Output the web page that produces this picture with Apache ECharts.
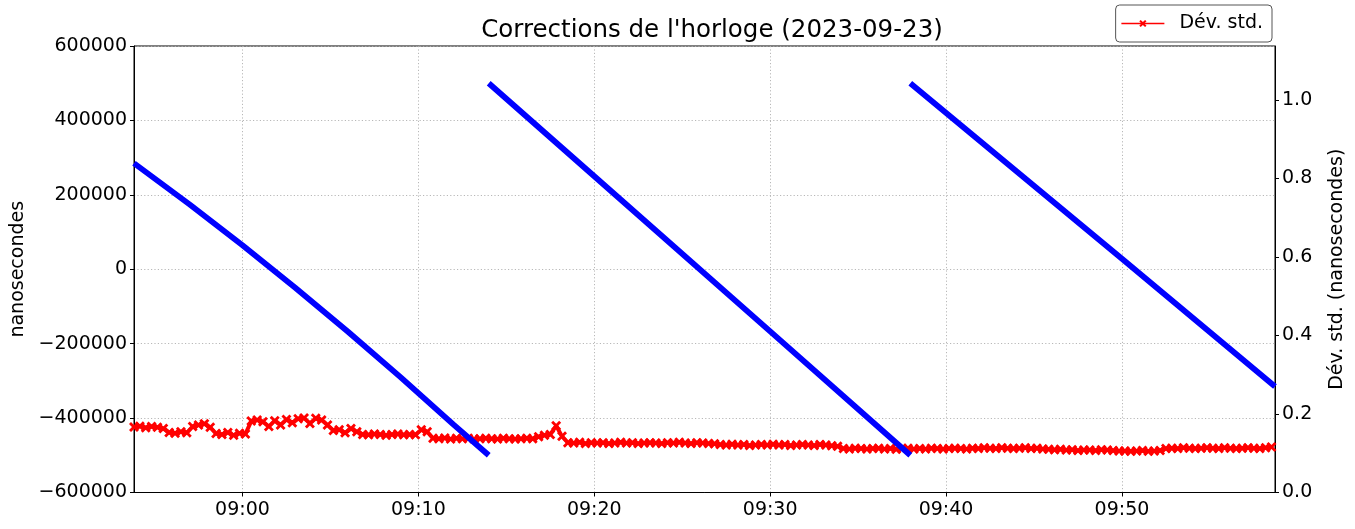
<!DOCTYPE html>
<html>
<head>
<meta charset="utf-8">
<script src="https://cdn.jsdelivr.net/npm/echarts@6/dist/echarts.min.js"></script>
<style>
  html, body { margin: 0; padding: 0; background: #fff; }
  #chart { width: 1355px; height: 529px; }
</style>
</head>
<body>
<div id="chart"></div>
<script>
// ---- Data ----
const chartTitle = "Corrections de l'horloge (2023-09-23)";
const axisStart = '08:53:50';
const axisEnd = '09:58:42';
const referenceTime = '09:00:00';   // x values are minutes relative to this
const xTickMinutes = 10;

// Blue: clock corrections (ns), three sawtooth segments
const seg1Times = ['08:53:50', '08:57:00', '09:00:00', '09:03:00', '09:06:00', '09:09:00', '09:12:00', '09:14:00'];
const seg1Values = [285000, 174000, 64400, -49500, -167800, -290500, -417600, -500000];
const seg2Times = ['09:14:00', '09:20:00', '09:30:00', '09:37:58'];
const seg2Values = [500000, 250000, -167000, -500000];
const seg3Times = ['09:37:58', '09:50:00', '09:58:42'];
const seg3Values = [500000, 28000, -315000];

// Red: std. deviation (ns), one value every 20 s from redStart
const redStart = '08:53:50';
const redStepSeconds = 20;
const redValues = [
  0.167,0.169,0.165,0.168,0.166,0.163,
  0.153,0.151,0.155,0.152,
  0.168,0.172,0.175,0.166,
  0.150,0.148,0.153,0.146,0.151,0.149,
  0.182,0.185,0.180,0.168,0.183,0.172,0.186,
  0.178,
  0.188,0.190,0.176,0.189,0.185,0.172,
  0.158,0.160,0.152,0.163,0.155,
  0.148,0.147,0.149,0.148,0.146,0.148,0.149,0.147,0.148,0.147,
  0.160,0.155,
  0.138,0.137,0.139,0.136,0.138,0.137,0.138,0.136,0.137,0.138,0.137,0.136,0.138,0.137,0.136,0.137,0.138,0.137,
  0.142,0.146,0.148,0.170,0.143,
  0.127,0.126,0.128,0.125,0.127,0.126,0.127,0.125,0.126,0.128,0.126,0.127,0.125,0.126,0.127,0.126,0.125,0.127,0.126,0.128,0.126,0.125,0.127,0.126,0.125,0.124,
  0.122,0.121,0.123,0.121,0.122,0.120,0.121,0.122,0.121,0.123,0.121,0.122,0.120,0.121,0.122,0.121,0.120,0.122,0.121,0.119,0.118,
  0.112,0.111,0.113,0.112,0.111,0.112,0.113,0.111,0.112,0.110,0.112,0.113,0.111,0.112,0.111,0.113,0.112,0.111,0.112,0.113,0.112,0.111,0.113,0.112,0.114,0.113,0.112,0.114,0.113,0.112,0.113,0.114,0.112,0.113,0.111,0.110,0.109,0.110,
  0.108,0.109,0.107,0.108,0.108,0.107,0.109,0.108,0.107,0.106,
  0.106,0.105,0.106,0.107,0.105,0.106,0.107,
  0.112,0.113,0.112,0.114,0.113,0.112,0.113,0.114,0.113,0.112,0.114,0.113,0.112,0.113,0.114,0.113,0.112,0.114,0.116
];

const leftTicks = { min: -600000, max: 600000, interval: 200000 };
const rightTicks = { min: 0, max: 1.1375, interval: 0.2 };
const leftName = 'nanosecondes';
const rightName = 'Dév. std. (nanosecondes)';
const redName = 'Dév. std.';

// ---- Helpers ----
function secOfDay(hms) {
  const p = hms.split(':').map(Number);
  return p[0] * 3600 + p[1] * 60 + (p[2] || 0);
}
const refSec = secOfDay(referenceTime);
const toMin = hms => (secOfDay(hms) - refSec) / 60;
function pairs(times, values) { return times.map((t, i) => [toMin(t), values[i]]); }
const redStartMin = toMin(redStart);
const redData = redValues.map((v, i) => [redStartMin + i * redStepSeconds / 60, v]);
const pad = n => String(n).padStart(2, '0');
const minus = s => String(s).replace('-', '\u2212');
function fmtClock(v) {
  const total = Math.round(refSec / 60 + v);
  return pad(Math.floor(total / 60)) + ':' + pad(total % 60);
}

const FONT = 'DejaVu Sans';
const xPath = 'path://M0,2L2,0L5,3L8,0L10,2L7,5L10,8L8,10L5,7L2,10L0,8L3,5Z';

const gridLine = { show: true, lineStyle: { color: '#b0b0b0', width: 0.9, type: [1.2, 2.2] } };
const blueStyle = { color: '#0000ff', width: 5.8, cap: 'butt' };

const chart = echarts.init(document.getElementById('chart'), null, { renderer: 'canvas' });
chart.setOption({
  animation: false,
  backgroundColor: '#fff',
  textStyle: { fontFamily: FONT },
  title: {
    text: chartTitle, left: 707, top: 13, textAlign: 'center',
    textStyle: { fontFamily: FONT, fontSize: 24.5, fontWeight: 'normal', color: '#000' }
  },
  legend: {
    data: [redName], right: 83, top: 5,
    orient: 'horizontal',
    padding: [9, 9, 9, 5],
    itemWidth: 43, itemHeight: 9,
    lineStyle: { width: 1.5 },
    borderColor: '#555', borderWidth: 1, borderRadius: 4,
    backgroundColor: '#fff',
    textStyle: { fontFamily: FONT, fontSize: 19, color: '#000', padding: [0, 0, 0, 10] }
  },
  grid: {
    left: 134, right: 73.5, top: 46, bottom: 36.5,
    show: true, borderColor: '#000', borderWidth: 1, backgroundColor: 'transparent'
  },
  xAxis: {
    type: 'value', min: toMin(axisStart), max: toMin(axisEnd),
    minInterval: xTickMinutes, maxInterval: xTickMinutes, splitNumber: 6,
    axisLine: { show: true, onZero: false, lineStyle: { color: '#000', width: 1 } },
    axisTick: { show: true, inside: false, length: 4, lineStyle: { color: '#000' } },
    axisLabel: {
      fontFamily: FONT, fontSize: 19, color: '#000', margin: 8,
      showMinLabel: false, showMaxLabel: false,
      formatter: v => fmtClock(v)
    },
    splitLine: gridLine
  },
  yAxis: [
    {
      type: 'value', position: 'left',
      min: leftTicks.min, max: leftTicks.max, interval: leftTicks.interval,
      name: leftName, nameLocation: 'middle', nameGap: 106, nameRotate: 90,
      nameTextStyle: { fontFamily: FONT, fontSize: 19, color: '#000' },
      axisLine: { show: true, onZero: false, lineStyle: { color: '#000', width: 1 } },
      axisTick: { show: true, inside: false, length: 4, lineStyle: { color: '#000' } },
      axisLabel: { fontFamily: FONT, fontSize: 19, color: '#000', margin: 7, formatter: v => minus(v) },
      splitLine: gridLine
    },
    {
      type: 'value', position: 'right',
      min: rightTicks.min, max: rightTicks.max, interval: rightTicks.interval,
      name: rightName, nameLocation: 'middle', nameGap: 53, nameRotate: 90,
      nameTextStyle: { fontFamily: FONT, fontSize: 19, color: '#000' },
      axisLine: { show: true, onZero: false, lineStyle: { color: '#000', width: 1 } },
      axisTick: { show: true, inside: false, length: 4, lineStyle: { color: '#000' } },
      axisLabel: { fontFamily: FONT, fontSize: 19, color: '#000', margin: 7, showMaxLabel: false,
        formatter: v => Number(v).toFixed(1) },
      splitLine: { show: false }
    }
  ],
  series: [
    {
      name: redName, type: 'line', yAxisIndex: 1, data: redData, z: 2,
      symbol: xPath, symbolSize: 10, showAllSymbol: true,
      lineStyle: { color: '#ff0000', width: 4 },
      itemStyle: { color: '#ff0000' }
    },
    { name: 'seg1', type: 'line', yAxisIndex: 0, data: pairs(seg1Times, seg1Values), showSymbol: false, symbol: 'none', lineStyle: blueStyle, itemStyle: { color: '#0000ff' }, z: 3 },
    { name: 'seg2', type: 'line', yAxisIndex: 0, data: pairs(seg2Times, seg2Values), showSymbol: false, symbol: 'none', lineStyle: blueStyle, itemStyle: { color: '#0000ff' }, z: 3 },
    { name: 'seg3', type: 'line', yAxisIndex: 0, data: pairs(seg3Times, seg3Values), showSymbol: false, symbol: 'none', lineStyle: blueStyle, itemStyle: { color: '#0000ff' }, z: 3 }
  ]
});
</script>
</body>
</html>
